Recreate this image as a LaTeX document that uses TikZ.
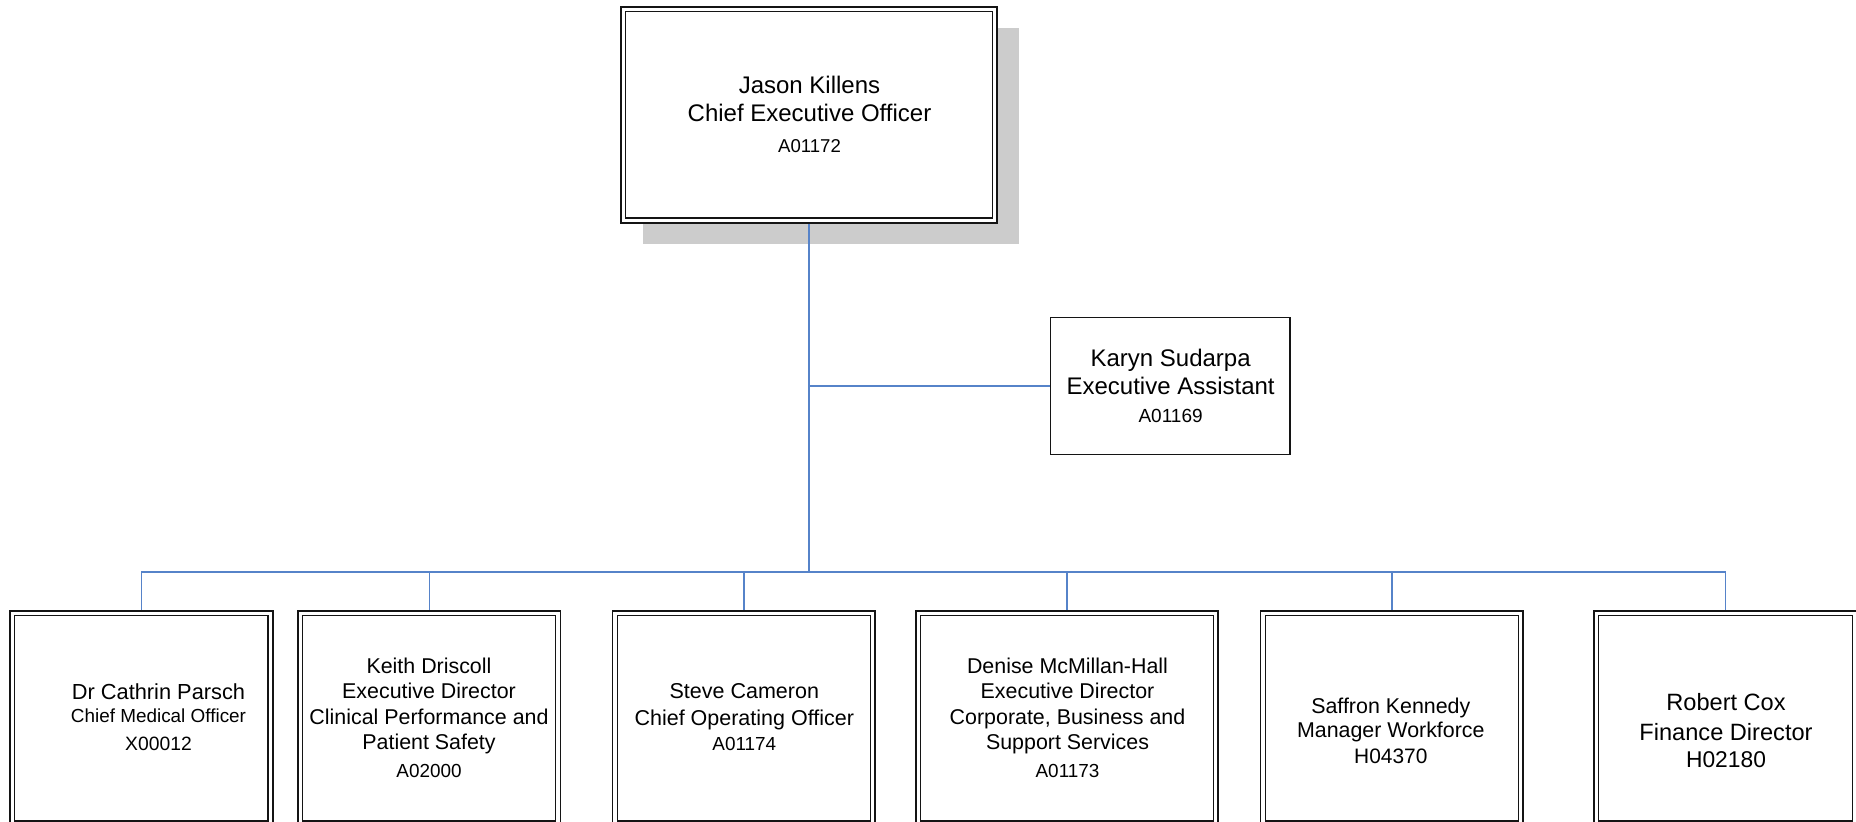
\documentclass[tikz,border=0pt]{standalone}
\usepackage{fontspec}
\setmainfont{Liberation Sans}
\usetikzlibrary{calc}

\pgfdeclarelayer{shadowlayer}
\pgfdeclarelayer{linklayer}
\pgfsetlayers{shadowlayer,linklayer,main}

\definecolor{linkblue}{RGB}{86,131,201}
\definecolor{boxline}{RGB}{20,20,20}
\definecolor{shadowgray}{RGB}{204,204,204}

% font size and baseline skip in one go
\newcommand\txtsize[2]{\fontsize{#1}{#2}\selectfont}

\begin{document}
\begin{tikzpicture}[x=0.5pt,y=-0.5pt,
  postbox/.style={draw=boxline, line width=0.9pt, fill=white,
    inner sep=0pt, outer sep=0pt,
    minimum width=131.35pt, minimum height=107.35pt},
  innerframe/.style={draw=boxline, line width=0.55pt},
  plainbox/.style={draw=boxline, line width=0.75pt, fill=white,
    inner sep=0pt, outer sep=0pt},
  boxtext/.style={align=center, inner sep=0pt, text=black},
  link/.style={draw=linkblue, line width=0.7pt},
]
\useasboundingbox (0,0) rectangle (1856,822);
\clip (0,0) rectangle (1856,822);

% ---- chief executive ----
\node[postbox, minimum width=188.35pt, minimum height=108.05pt] (ceo) at (809,114.7) {};

% ---- executive assistant ----
\node[plainbox, minimum width=119.65pt, minimum height=68.3pt] (ea) at (1170.3,386) {};

% ---- direct reports ----
\node[postbox] (cmo)  at (141.3,718.3) {};
\node[postbox] (cpps) at (429.2,718.3) {};
\node[postbox] (coo)  at (743.8,718.3) {};
\node[postbox, minimum width=151.35pt] (cbss) at (1067,718.3) {};
\node[postbox] (wf)   at (1391.8,718.3) {};
\node[postbox] (cfo)  at (1725.5,718.3) {};

% inner line of the double frames
\foreach \n in {ceo,cmo,cpps,coo,cbss,wf,cfo}
  \draw[innerframe] ([shift={(4.7,4.7)}]\n.north west)
    rectangle ([shift={(-4.7,-4.7)}]\n.south east);

% ---- box texts ----
\node[boxtext, font=\txtsize{12}{14.2}] (ceo-t) at (809.5,114.2)
  {Jason Killens\\Chief Executive Officer\\[1.1pt]{\txtsize{9.3}{11}A01172}};
\node[boxtext, font=\txtsize{12}{14.2}] (ea-t) at (1170.6,386)
  {Karyn Sudarpa\\Executive Assistant\\{\txtsize{9.5}{11}A01169}};
\node[boxtext, font=\txtsize{10.9}{11.2}] (cmo-t) at (158.5,717.3)
  {Dr Cathrin Parsch\\{\txtsize{9.45}{11}Chief Medical Officer}\\[2.9pt]{\txtsize{9.65}{11}X00012}};
\node[boxtext, font=\txtsize{10.7}{12.75}] (cpps-t) at (429,717.5)
  {Keith Driscoll\\Executive Director\\Clinical Performance and\\Patient Safety\\[1pt]{\txtsize{9.45}{11}A02000}};
\node[boxtext, font=\txtsize{10.75}{12.5}] (coo-t) at (744.3,717.3)
  {Steve Cameron\\[1.2pt]Chief Operating Officer\\{\txtsize{9.45}{11}A01174}};
\node[boxtext, font=\txtsize{10.7}{12.8}] (cbss-t) at (1067.5,717.8)
  {Denise McMillan-Hall\\Executive Director\\Corporate, Business and\\Support Services\\[1.2pt]{\txtsize{9.45}{11}A01173}};
\node[boxtext, font=\txtsize{10.7}{12.2}] (wf-t) at (1390.8,730.7)
  {Saffron Kennedy\\Manager Workforce\\[0.9pt]{\txtsize{10.45}{12}H04370}};
\node[boxtext, font=\txtsize{11.8}{13.65}] (cfo-t) at (1726,730.3)
  {Robert Cox\\[1.35pt]Finance Director\\{\txtsize{11.4}{13}H02180}};

% ---- drop shadow behind the chief executive box ----
\begin{pgfonlayer}{shadowlayer}
  \fill[shadowgray] ([shift={(22,21.6)}]ceo.north west)
    rectangle ([shift={(22,21.6)}]ceo.south east);
\end{pgfonlayer}

% ---- reporting lines ----
\begin{pgfonlayer}{linklayer}
  \coordinate (bus) at (809,572);
  \draw[link] (ceo.south) -- (ceo.south |- bus);
  \draw[link] (ceo.south |- ea.west) -- (ea.west);
  \draw[link] (cmo.north |- bus) -- (cfo.north |- bus);
  \foreach \n in {cmo,cpps,coo,cbss,wf,cfo}
    \draw[link] (\n.north |- bus) -- (\n.north);
\end{pgfonlayer}
\end{tikzpicture}
\end{document}
